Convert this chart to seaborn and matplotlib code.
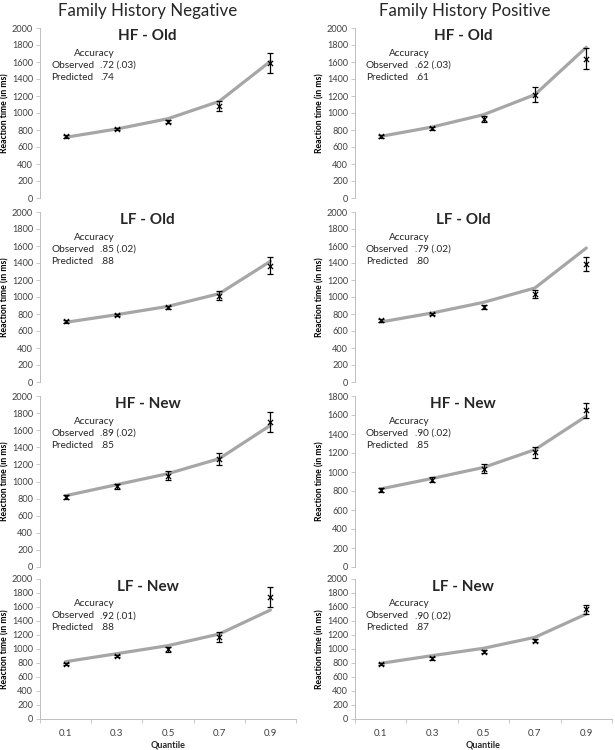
import numpy as np
import pandas as pd
import matplotlib
matplotlib.use("Agg")
import matplotlib.pyplot as plt
import seaborn as sns

# ---------------- data ----------------
quantiles = ["0.1", "0.3", "0.5", "0.7", "0.9"]
columns = ["Family History Negative", "Family History Positive"]
conditions = ["HF - Old", "LF - Old", "HF - New", "LF - New"]

# Family history negative
pred_neg_hf_old = [714, 812, 933, 1137, 1608]
obs_neg_hf_old = [725, 812, 898, 1086, 1588]
err_neg_hf_old = [20, 15, 20, 60, 120]

pred_neg_lf_old = [702, 792, 890, 1039, 1420]
obs_neg_lf_old = [714, 788, 878, 1016, 1370]
err_neg_lf_old = [15, 15, 20, 55, 100]

pred_neg_hf_new = [834, 963, 1092, 1267, 1657]
obs_neg_hf_new = [819, 943, 1068, 1267, 1696]
err_neg_hf_new = [25, 30, 50, 70, 117]

pred_neg_lf_new = [819, 933, 1048, 1214, 1557]
obs_neg_lf_new = [786, 900, 995, 1176, 1738]
err_neg_lf_new = [20, 20, 35, 70, 143]

# Family history positive
pred_pos_hf_old = [725, 835, 980, 1216, 1773]
obs_pos_hf_old = [725, 820, 929, 1216, 1639]
err_pos_hf_old = [15, 20, 30, 90, 120]

pred_pos_lf_old = [706, 812, 937, 1106, 1576]
obs_pos_lf_old = [725, 800, 886, 1035, 1388]
err_pos_lf_old = [15, 15, 25, 50, 85]

pred_pos_hf_new = [822, 932, 1048, 1235, 1588]
obs_pos_hf_new = [812, 918, 1034, 1207, 1648]
err_pos_hf_new = [20, 25, 45, 60, 83]

pred_pos_lf_new = [795, 905, 1010, 1167, 1500]
obs_pos_lf_new = [781, 867, 962, 1119, 1567]
err_pos_lf_new = [15, 20, 25, 25, 65]

acc_obs_neg = [".72 (.03)", ".85 (.02)", ".89 (.02)", ".92 (.01)"]
acc_pred_neg = [".74", ".88", ".85", ".88"]
acc_obs_pos = [".62 (.03)", ".79 (.02)", ".90 (.02)", ".90 (.02)"]
acc_pred_pos = [".61", ".80", ".85", ".87"]

y_max_neg = [2000, 2000, 2000, 2000]
y_max_pos = [2000, 2000, 1800, 2000]

panels = {
    0: [(pred_neg_hf_old, obs_neg_hf_old, err_neg_hf_old),
        (pred_neg_lf_old, obs_neg_lf_old, err_neg_lf_old),
        (pred_neg_hf_new, obs_neg_hf_new, err_neg_hf_new),
        (pred_neg_lf_new, obs_neg_lf_new, err_neg_lf_new)],
    1: [(pred_pos_hf_old, obs_pos_hf_old, err_pos_hf_old),
        (pred_pos_lf_old, obs_pos_lf_old, err_pos_lf_old),
        (pred_pos_hf_new, obs_pos_hf_new, err_pos_hf_new),
        (pred_pos_lf_new, obs_pos_lf_new, err_pos_lf_new)],
}
acc_obs = {0: acc_obs_neg, 1: acc_obs_pos}
acc_pred = {0: acc_pred_neg, 1: acc_pred_pos}
y_max = {0: y_max_neg, 1: y_max_pos}

# ---------------- style ----------------
sns.set_style("white")
plt.rcParams["font.family"] = ["Lato", "DejaVu Sans"]

W, H = 615, 750
fig = plt.figure(figsize=(W / 100, H / 100), dpi=100)

col_left = [40, 355]
col_width = [256, 257]
row_top = [28, 212, 396, 579]
row_bottom = [198, 382, 567, 719]

axis_gray = "#BFBFBF"
line_gray = "#A6A6A6"
text_dark = "#404040"
acc_size = 7.2

xpos = np.arange(len(quantiles))

for c in range(2):
    for r in range(4):
        left = col_left[c] / W
        bottom = 1 - row_bottom[r] / H
        height = (row_bottom[r] - row_top[r]) / H
        ax = fig.add_axes([left, bottom, col_width[c] / W, height])
        pred, obs, err = panels[c][r]
        df = pd.DataFrame({"x": xpos, "pred": pred, "obs": obs, "err": err})

        sns.lineplot(data=df, x="x", y="pred", ax=ax, color=line_gray,
                     linewidth=2.3, legend=False, zorder=2)
        ax.errorbar(df["x"], df["obs"], yerr=df["err"], fmt="none",
                    ecolor="black", elinewidth=0.9, capsize=2.2,
                    capthick=0.9, zorder=3)
        sns.scatterplot(data=df, x="x", y="obs", ax=ax, marker="x",
                        color="black", s=14, linewidth=0.9, zorder=4,
                        legend=False)

        ax.set_xlim(-0.5, len(quantiles) - 0.5)
        ym = y_max[c][r]
        ax.set_ylim(0, ym)
        ax.set_yticks(np.arange(0, ym + 1, 200))
        ax.tick_params(axis="y", direction="out", length=3, width=0.6,
                       color=axis_gray, labelsize=6.6, labelcolor=text_dark,
                       pad=2, left=True)
        for s in ["top", "right"]:
            ax.spines[s].set_visible(False)
        ax.spines["left"].set_color(axis_gray)
        ax.spines["left"].set_linewidth(0.7)
        ax.set_ylabel("Reaction time (in ms)", fontsize=6.2,
                      fontweight="bold", color="black", labelpad=2)

        if r == 3:
            ax.spines["bottom"].set_color(axis_gray)
            ax.spines["bottom"].set_linewidth(0.7)
            ax.set_xticks(xpos)
            ax.set_xticklabels(quantiles)
            ax.set_xticks(np.arange(-0.5, len(quantiles)), minor=True)
            ax.tick_params(axis="x", which="major", length=0, labelsize=7,
                           labelcolor=text_dark, pad=7)
            ax.tick_params(axis="x", which="minor", direction="out",
                           length=3, width=0.6, color=axis_gray,
                           bottom=True)
            ax.set_xlabel("Quantile", fontsize=6.5, fontweight="bold",
                          labelpad=2)
        else:
            ax.spines["bottom"].set_visible(False)
            ax.set_xticks([])
            ax.set_xlabel("")

        hpx = row_bottom[r] - row_top[r]
        ax.text(0.42, 1 - 8 / hpx, conditions[r], transform=ax.transAxes,
                ha="center", va="center", fontsize=11, fontweight="bold")
        ax.annotate("Accuracy", xy=(0, 1), xycoords="axes fraction",
                    xytext=(54, -25), textcoords="offset pixels",
                    ha="center", va="center", fontsize=acc_size)
        ax.annotate("Observed", xy=(0, 1), xycoords="axes fraction",
                    xytext=(11, -37), textcoords="offset pixels",
                    ha="left", va="center", fontsize=acc_size)
        ax.annotate(acc_obs[c][r], xy=(0, 1), xycoords="axes fraction",
                    xytext=(60, -37), textcoords="offset pixels",
                    ha="left", va="center", fontsize=acc_size)
        ax.annotate("Predicted", xy=(0, 1), xycoords="axes fraction",
                    xytext=(11, -49), textcoords="offset pixels",
                    ha="left", va="center", fontsize=acc_size)
        ax.annotate(acc_pred[c][r], xy=(0, 1), xycoords="axes fraction",
                    xytext=(60, -49), textcoords="offset pixels",
                    ha="left", va="center", fontsize=acc_size)

fig.text(148 / W, 1 - 11 / H, columns[0], ha="center", va="center",
         fontsize=12.2)
fig.text(465 / W, 1 - 11 / H, columns[1], ha="center", va="center",
         fontsize=12.2)

fig.savefig("out.png", dpi=100)
